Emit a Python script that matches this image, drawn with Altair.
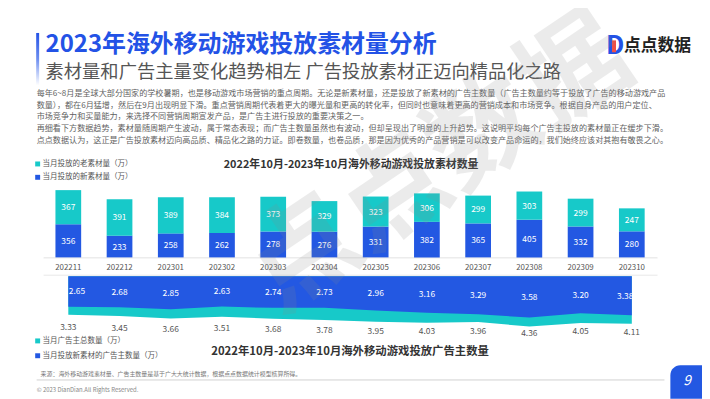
import altair as alt
import pandas as pd

# ---------------- data ----------------
months = ["202211", "202212", "202301", "202302", "202303", "202304",
          "202305", "202306", "202307", "202308", "202309", "202310"]
old_material = [367, 391, 389, 384, 373, 329, 323, 306, 299, 303, 299, 247]
new_material = [356, 233, 258, 262, 278, 276, 331, 382, 365, 405, 332, 280]
adv_total = [3.33, 3.45, 3.66, 3.51, 3.68, 3.78, 3.95, 4.03, 3.96, 4.36, 4.05, 4.11]
adv_new = [2.65, 2.68, 2.85, 2.63, 2.74, 2.73, 2.96, 3.16, 3.29, 3.58, 3.20, 3.38]

title_text = "2023年海外移动游戏投放素材量分析"
subtitle_text = "素材量和广告主量变化趋势相左 广告投放素材正迈向精品化之路"
para_lines = [
    "每年6~8月是全球大部分国家的学校暑期，也是移动游戏市场营销的重点周期。无论是新素材量，还是投放了新素材的广告主数量（广告主数量约等于投放了广告的移动游戏产品",
    "数量），都在6月猛增，然后在9月出现明显下滑。重点营销周期代表着更大的曝光量和更高的转化率，但同时也意味着更高的营销成本和市场竞争。根据自身产品的用户定位、",
    "市场竞争力和买量能力，来选择不同营销周期宣发产品，是广告主进行投放的重要决策之一。",
    "再细看下方数据趋势，素材量随周期产生波动，属于常态表现；而广告主数量虽然也有波动，但却呈现出了明显的上升趋势。这说明平均每个广告主投放的素材量正在缓步下滑。",
    "点点数据认为，这正是广告投放素材迈向高品质、精品化之路的力证。即卷数量，也卷品质，那是因为优秀的产品营销是可以改变产品命运的，我们始终应该对其抱有敬畏之心。",
]
chart1_title = "2022年10月-2023年10月海外移动游戏投放素材数量"
chart2_title = "2022年10月-2023年10月海外移动游戏投放广告主数量"
legend_old = "当月投放的老素材量（万）"
legend_new = "当月投放的新素材量（万）"
legend_adv_total = "当月广告主总数量（万）"
legend_adv_new = "当月投放新素材的广告主数量（万）"
source_text = "来源：海外移动游戏素材量、广告主数量是基于广大大统计数据，根据点点数据统计模型核算所得。"
copyright_text = "© 2023 DianDian.All Rights Reserved."
logo_text = "点点数据"
page_no = "9"

# ---------------- style ----------------
FONT = "Noto Sans CJK SC, Noto Sans, sans-serif"
TEAL = "#17C9C9"
BLUE = "#2358E2"
TITLE_BLUE = "#2352E6"
OFF = 8
W, H = 702, 391


def px(v):
    return v - OFF


df = pd.DataFrame({
    "idx": list(range(len(months))),
    "month": months,
    "old": old_material,
    "new": new_material,
    "total": adv_total,
    "anew": adv_new,
})
one = pd.DataFrame({"a": [0]})

xscale = alt.Scale(domain=[-1.1772, 12.3702], nice=False, zero=False)
bar_y = alt.Scale(domain=[-1498.4, 2656.7], nice=False, zero=False)
area_y = alt.Scale(domain=[-22.991, 10.427], nice=False, zero=False, reverse=True)


def txt(s, x, y, size, color, weight="normal", align="left", baseline="middle", **kw):
    return alt.Chart(one).mark_text(
        text=s, fontSize=size, color=color, font=FONT, fontWeight=weight,
        align=align, baseline=baseline, **kw
    ).encode(x=alt.value(px(x)), y=alt.value(px(y)))


def rect(x1, y1, x2, y2, **kw):
    return alt.Chart(one).mark_rect(**kw).encode(
        x=alt.value(px(x1)), x2=alt.value(px(x2)),
        y=alt.value(px(y1)), y2=alt.value(px(y2)))


def rule(x1, x2, y, color, width=1):
    return alt.Chart(one).mark_rule(color=color, strokeWidth=width).encode(
        x=alt.value(px(x1)), x2=alt.value(px(x2)), y=alt.value(px(y)))


last = len(months) - 1
base = alt.Chart(df).transform_calculate(
    x0="datum.idx - 0.251", x1="datum.idx + 0.251", z="0",
    top="datum.new + datum.old",
    newmid="datum.new / 2", oldmid="datum.new + datum.old / 2",
    anewlab="datum.anew * 0.5", totlab="datum.total * 0.5 + 2.75",
    labx=f"datum.idx == 0 ? datum.idx + 0.17 : (datum.idx == {last} ? datum.idx - 0.13 : datum.idx)",
)

layers = []

# header
layers.append(rect(36.5, 31, 39.5, 84, fill=alt.Gradient(
    gradient="linear", x1=0, x2=0, y1=0, y2=1,
    stops=[alt.GradientStop(color="#2352E6", offset=0),
           alt.GradientStop(color="#6d8ef0", offset=0.5),
           alt.GradientStop(color="#ffffff", offset=1)])))
layers.append(txt(title_text, 46, 43, 24.2, TITLE_BLUE, weight="bold"))
layers.append(txt(subtitle_text, 46, 71, 18.5, "#555555"))

# logo
layers.append(txt("D", 613, 44.5, 26, TITLE_BLUE, weight="bold"))
layers.append(rect(619, 38.5, 623, 50.5, color="#F04E45"))
layers.append(txt(logo_text, 631, 44, 17, "#222222", weight="bold"))

# paragraph
for i, line in enumerate(para_lines):
    layers.append(txt(line, 37, 92.5 + i * 12, 8.2, "#5f5f5f"))

# chart 1 title & legend
layers.append(txt(chart1_title, 355, 165, 11, "#333333", weight="bold", align="center"))
layers.append(rect(35.5, 161, 40.5, 166, color=TEAL))
layers.append(txt(legend_old, 43, 163.5, 7.6, "#555555"))
layers.append(rect(35.5, 174.5, 40.5, 179.5, color=BLUE))
layers.append(txt(legend_new, 43, 177, 7.6, "#555555"))

# axis lines
layers.append(rule(44, 665, 258.5, "#e2e2e2"))
layers.append(rule(44, 665, 276, "#e8e8e8"))

# bars
layers.append(base.mark_rect(color=BLUE).encode(
    x=alt.X("x0:Q", scale=xscale, axis=None), x2="x1:Q",
    y=alt.Y("new:Q", scale=bar_y, axis=None), y2="z:Q"))
layers.append(base.mark_rect(color=TEAL).encode(
    x=alt.X("x0:Q", scale=xscale, axis=None), x2="x1:Q",
    y=alt.Y("top:Q", scale=bar_y, axis=None), y2="new:Q"))
layers.append(base.mark_text(font=FONT, fontSize=8.5, color="white").encode(
    x=alt.X("idx:Q", scale=xscale, axis=None),
    y=alt.Y("newmid:Q", scale=bar_y, axis=None), text="new:Q"))
layers.append(base.mark_text(font=FONT, fontSize=8.5, color="white").encode(
    x=alt.X("idx:Q", scale=xscale, axis=None),
    y=alt.Y("oldmid:Q", scale=bar_y, axis=None), text="old:Q"))
layers.append(base.mark_text(font=FONT, fontSize=8, color="#555555").encode(
    x=alt.X("idx:Q", scale=xscale, axis=None),
    y=alt.value(px(268.5)), text="month:N"))

# areas (hanging down from the top line)
layers.append(base.mark_area(color=TEAL, opacity=1).encode(
    x=alt.X("idx:Q", scale=xscale, axis=None),
    y=alt.Y("total:Q", scale=area_y, axis=None, stack=None), y2="z:Q"))
layers.append(base.mark_area(color=BLUE, opacity=1).encode(
    x=alt.X("idx:Q", scale=xscale, axis=None),
    y=alt.Y("anew:Q", scale=area_y, axis=None, stack=None), y2="z:Q"))
layers.append(base.mark_text(font=FONT, fontSize=8.5, color="white").encode(
    x=alt.X("labx:Q", scale=xscale, axis=None),
    y=alt.Y("anewlab:Q", scale=area_y, axis=None),
    text=alt.Text("anew:Q", format=".2f")))
layers.append(base.mark_text(font=FONT, fontSize=8.5, color="#555555").encode(
    x=alt.X("idx:Q", scale=xscale, axis=None),
    y=alt.Y("totlab:Q", scale=area_y, axis=None),
    text=alt.Text("total:Q", format=".2f")))

# chart 2 legend & title
layers.append(rect(35.5, 340, 40.5, 345, color=TEAL))
layers.append(txt(legend_adv_total, 43, 342.5, 7.6, "#555555"))
layers.append(rect(35.5, 355, 40.5, 360, color=BLUE))
layers.append(txt(legend_adv_new, 43, 357.5, 7.6, "#555555"))
layers.append(txt(chart2_title, 354, 353.5, 11.5, "#333333", weight="bold", align="center"))

# footer
layers.append(txt(source_text, 41, 376, 6, "#777777"))
layers.append(rule(37, 672, 382, "#d0d0d0"))
layers.append(txt(copyright_text, 37, 392, 6, "#888888"))
layers.append(rect(678, 367, 712, 401, color=BLUE, cornerRadiusTopLeft=10))
layers.append(txt(page_no, 695, 383, 14, "white", align="center", fontStyle="italic"))

# watermark
layers.append(txt(logo_text, 445, 165, 110, "#8a8a8a", weight="bold", align="center",
                  angle=326, opacity=0.16))

chart = alt.layer(*layers).properties(
    width=W, height=H,
    autosize=alt.AutoSizeParams(type="none"),
    padding=0,
    background="white",
).resolve_scale(y="independent").configure_view(stroke=None)

chart.save("out.html", embed_options={"renderer": "svg", "actions": False})
